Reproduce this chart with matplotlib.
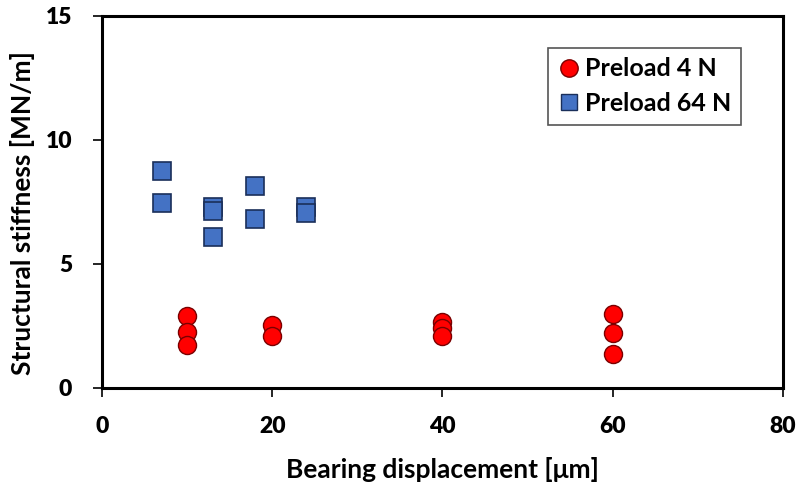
import matplotlib
matplotlib.use("Agg")
import matplotlib.pyplot as plt
from matplotlib.lines import Line2D

plt.rcParams["font.family"] = ["Lato", "DejaVu Sans"]

# preload 4 N
disp_4n = [10, 10, 10, 20, 20, 40, 40, 40, 60, 60, 60]
stiff_4n = [2.9, 2.27, 1.75, 2.55, 2.1, 2.65, 2.4, 2.1, 3.0, 2.2, 1.37]

# preload 64 N
disp_64n = [7, 7, 13, 13, 13, 18, 18, 24, 24]
stiff_64n = [8.75, 7.47, 7.3, 7.15, 6.08, 8.15, 6.81, 7.3, 7.05]

x_ticks = [0, 20, 40, 60, 80]
x_tick_labels = ["0", "20", "40", "60", "80"]
y_ticks = [0, 5, 10, 15]
y_tick_labels = ["0", "5", "10", "15"]

fig = plt.figure(figsize=(8.03, 4.88), dpi=100)
ax = fig.add_axes([102 / 803, 1 - 388 / 488, 681 / 803, 372 / 488])

ax.plot(disp_4n, stiff_4n, "o", ms=13, mfc="#ff0000", mec="#7a0000", mew=1.0,
        linestyle="none", zorder=3)
ax.plot(disp_64n, stiff_64n, "s", ms=12.5, mfc="#4472c4", mec="#1a2f5a", mew=1.2,
        linestyle="none", zorder=3)

ax.set_xlim(0, 80)
ax.set_ylim(0, 15)
tick_font = {"family": ["Lato", "DejaVu Sans"], "weight": "heavy", "size": 16.5}
ax.set_xticks(x_ticks, labels=x_tick_labels, fontdict=tick_font)
ax.set_yticks(y_ticks, labels=y_tick_labels, fontdict=tick_font)
ax.tick_params(direction="out", length=6.5, width=1.2, colors="black")
ax.tick_params(axis="x", pad=14)
ax.tick_params(axis="y", pad=15)
for spine in ax.spines.values():
    spine.set_linewidth(2.2)
    spine.set_color("black")

ax.set_xlabel("Bearing displacement [μm]", fontsize=19, fontweight="bold")
ax.set_ylabel("Structural stiffness [MN/m]", fontsize=19, fontweight="bold")
ax.xaxis.set_label_coords(0.5, -0.185)
ax.yaxis.set_label_coords(-0.098, 0.47)

handles = [
    Line2D([], [], marker="o", ms=12.5, mfc="#ff0000", mec="#7a0000", ls="none",
           label="Preload 4 N"),
    Line2D([], [], marker="s", ms=11.5, mfc="#4472c4", mec="#1a2f5a", ls="none",
           label="Preload 64 N"),
]
leg = ax.legend(handles=handles, loc="upper right",
                bbox_to_anchor=(754 / 803, 1 - 35 / 488),
                bbox_transform=fig.transFigure,
                prop={"size": 18, "weight": "bold"}, fancybox=False,
                framealpha=1, edgecolor="#555555", handletextpad=0.2,
                handlelength=0.9, borderpad=0.4, labelspacing=0.45)
leg.get_frame().set_linewidth(1.2)

fig.savefig("out.png", dpi=100)
